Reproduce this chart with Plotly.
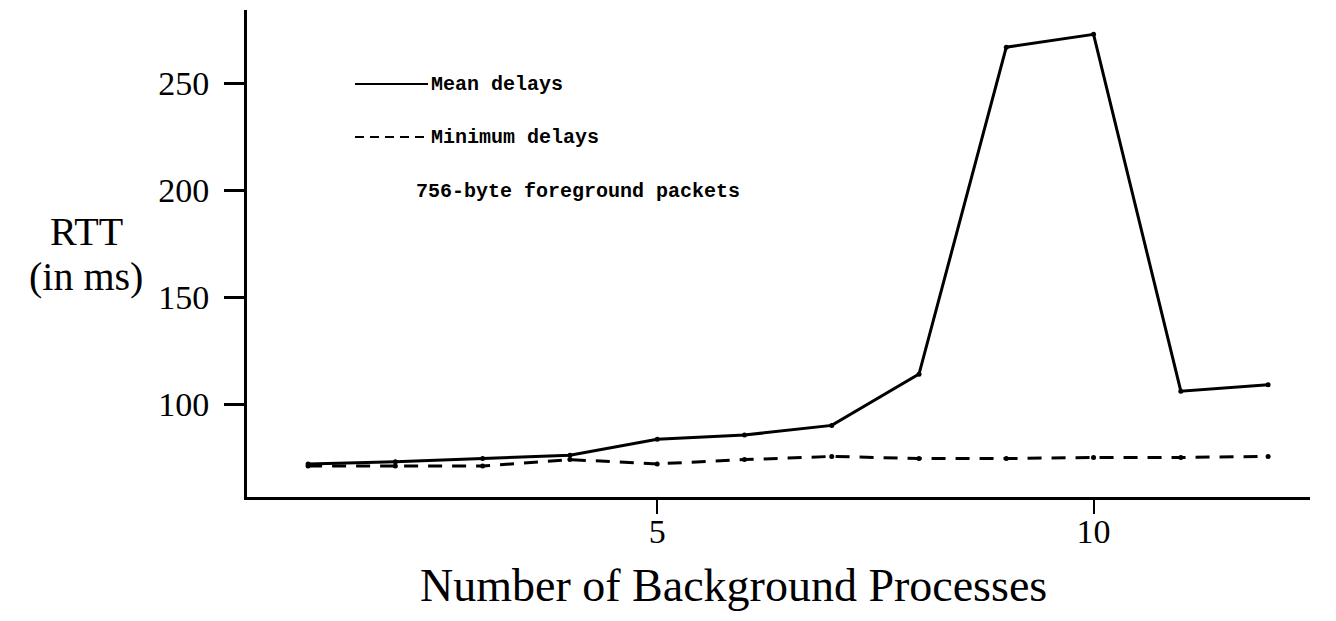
import plotly.graph_objects as go

# ---- data ----
processes = [1, 2, 3, 4, 5, 6, 7, 8, 9, 10, 11, 12]
mean_delays = [72, 73, 74.5, 76, 83.5, 85.5, 90, 114, 267, 273, 106, 109]
min_delays = [71, 71, 71, 74, 72, 74, 75.5, 74.5, 74.5, 75, 75, 75.5]
x_ticks = [5, 10]
y_ticks = [100, 150, 200, 250]

W, H = 1336, 621
L, R, T, B = 247, 26, 10, 124
PW, PH = W - L - R, H - T - B


def px(x):
    return (x - L) / PW


def py(y):
    return (H - B - y) / PH


fig = go.Figure()
fig.add_trace(go.Scatter(
    x=processes, y=mean_delays, mode="lines+markers",
    line=dict(color="black", width=3),
    marker=dict(color="black", size=5), showlegend=False))
fig.add_trace(go.Scatter(
    x=processes, y=min_delays, mode="lines+markers",
    line=dict(color="black", width=3, dash="14px,10px"),
    marker=dict(color="black", size=5), showlegend=False))

serif = "Liberation Serif"
mono = "Liberation Mono"

# legend-like key drawn inside the plot
fig.add_shape(type="line", xref="paper", yref="paper",
              x0=px(355), x1=px(428), y0=py(84), y1=py(84),
              line=dict(color="black", width=2))
fig.add_shape(type="line", xref="paper", yref="paper",
              x0=px(355), x1=px(428), y0=py(137), y1=py(137),
              line=dict(color="black", width=2, dash="9px,6px"))
for txt, xx, yy in [("Mean delays", 429, 84),
                    ("Minimum delays", 429, 137),
                    ("756-byte foreground packets", 414, 191)]:
    fig.add_annotation(text=txt, xref="paper", yref="paper",
                       x=px(xx), y=py(yy), xanchor="left", yanchor="middle",
                       showarrow=False,
                       font=dict(family=mono, size=20, color="black", weight="bold"))

fig.add_annotation(text="RTT", xref="paper", yref="paper",
                   x=px(86), y=py(231), xanchor="center", yanchor="middle",
                   showarrow=False,
                   font=dict(family=serif, size=40, color="black"))
fig.add_annotation(text="(in ms)", xref="paper", yref="paper",
                   x=px(86), y=py(276), xanchor="center", yanchor="middle",
                   showarrow=False,
                   font=dict(family=serif, size=40, color="black"))
fig.add_annotation(text="Number of Background Processes", xref="paper", yref="paper",
                   x=px(733), y=py(585), xanchor="center", yanchor="middle",
                   showarrow=False,
                   font=dict(family=serif, size=46, color="black"))

fig.update_xaxes(range=[0.30, 12.48], tickvals=x_ticks,
                 showline=True, linecolor="black", linewidth=3,
                 ticks="outside", ticklen=14, tickwidth=2, tickcolor="black",
                 showgrid=False, zeroline=False, automargin=False,
                 ticklabelstandoff=-12,
                 tickfont=dict(family=serif, size=34, color="black"))
fig.update_yaxes(range=[56.5, 284.4], tickvals=y_ticks,
                 showline=True, linecolor="black", linewidth=3,
                 ticks="outside", ticklen=20, tickwidth=3, tickcolor="black",
                 showgrid=False, zeroline=False, automargin=False,
                 ticklabelstandoff=8,
                 tickfont=dict(family=serif, size=34, color="black"))

fig.update_layout(width=W, height=H,
                  margin=dict(l=L, r=R, t=T, b=B, pad=0),
                  plot_bgcolor="white", paper_bgcolor="white")

fig.write_html("out.html", config={"displayModeBar": False},
               post_script="document.body.style.margin='0';")
